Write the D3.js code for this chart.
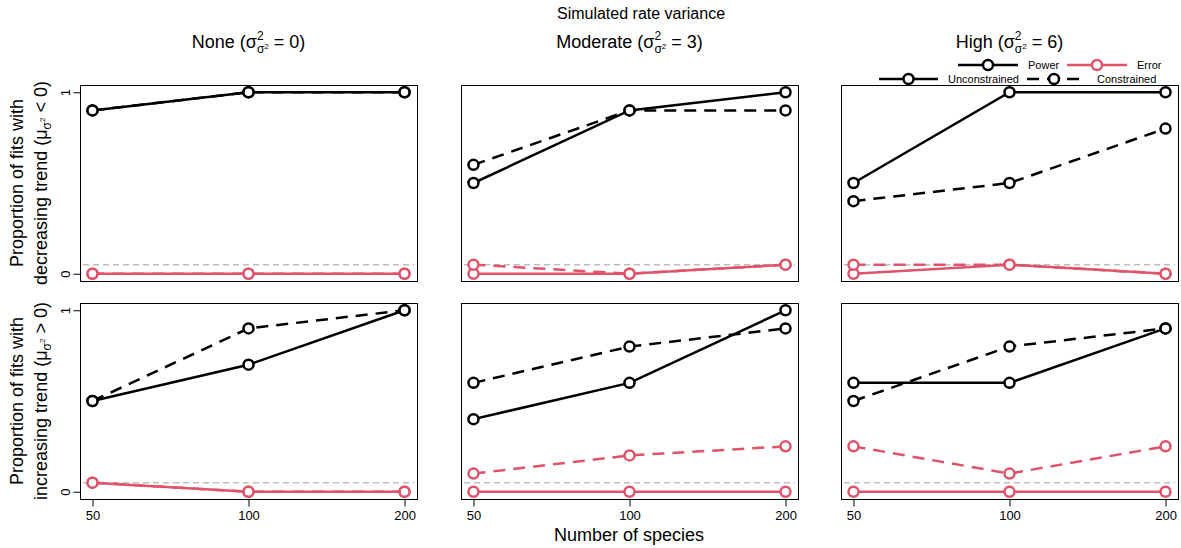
<!DOCTYPE html>
<html><head><meta charset="utf-8">
<script src="https://cdn.jsdelivr.net/npm/d3@7"></script>
<style>body{margin:0;background:#fff}svg{display:block}text{font-family:"Liberation Sans",Arial,sans-serif;fill:#000}</style>
</head><body><svg id="c" width="1181" height="548"></svg>
<script>
// ---- data ----
const species = ["50", "100", "200"];
const yTicks = [0, 1];
const columnNames = ["None", "Moderate", "High"];
const columnVariance = ["0", "3", "6"];
const rowTrend = ["decreasing", "increasing"];
const rowSign = ["<", ">"];
const errorThreshold = 0.05;
// rows: decreasing (top), increasing (bottom); each array: [None, Moderate, High]
const decPowerUnc = [[0.9, 1, 1], [0.5, 0.9, 1], [0.5, 1, 1]];
const decPowerCon = [[0.9, 1, 1], [0.6, 0.9, 0.9], [0.4, 0.5, 0.8]];
const decErrorUnc = [[0, 0, 0], [0, 0, 0.05], [0, 0.05, 0]];
const decErrorCon = [[0, 0, 0], [0.05, 0, 0.05], [0.05, 0.05, 0]];
const incPowerUnc = [[0.5, 0.7, 1], [0.4, 0.6, 1], [0.6, 0.6, 0.9]];
const incPowerCon = [[0.5, 0.9, 1], [0.6, 0.8, 0.9], [0.5, 0.8, 0.9]];
const incErrorUnc = [[0.05, 0, 0], [0, 0, 0], [0, 0, 0]];
const incErrorCon = [[0.05, 0, 0], [0.1, 0.2, 0.25], [0.25, 0.1, 0.25]];

const rowsData = [
  {pu: decPowerUnc, pc: decPowerCon, eu: decErrorUnc, ec: decErrorCon},
  {pu: incPowerUnc, pc: incPowerCon, eu: incErrorUnc, ec: incErrorCon}
];

// ---- layout ----
const svg = d3.select("#c");
const colX = [80, 461, 841], panelW = 337;
const rowY = [85, 303], panelH = 196;
const BLACK = "#000", RED = "#DF536B", GREY = "#BEBEBE";
const LW = 2.5, R = 5;
const DASH = "12,8";

function layout(g, items, x, y) {
  for (const it of items) {
    if (it.stack) {
      let start = x, maxEnd = x;
      for (const seq of it.stack) maxEnd = Math.max(maxEnd, layout(g, seq, start, y));
      x = maxEnd;
    } else {
      const t = g.append("text").attr("x", x).attr("y", y + (it.dy || 0))
        .attr("font-size", it.size).style("white-space", "pre").text(it.t);
      x += t.node().getComputedTextLength();
    }
  }
  return x;
}
function centered(parent, items, cx, cy, rotate) {
  const outer = parent.append("g").attr("transform", `translate(${cx},${cy})` + (rotate ? " rotate(-90)" : ""));
  const g = outer.append("g");
  const w = layout(g, items, 0, 0);
  g.attr("transform", `translate(${-w / 2},0)`);
  return outer;
}

// overall title
svg.append("text").attr("x", 641).attr("y", 19).attr("text-anchor", "middle")
  .attr("font-size", 16).text("Simulated rate variance");

// column titles
columnNames.forEach((n, i) => {
  centered(svg, [
    {t: n + " (σ", size: 18},
    {stack: [[{t: "2", size: 12, dy: -8}], [{t: "σ", size: 12, dy: 5}, {t: "2", size: 8, dy: 1}]]},
    {t: " = " + columnVariance[i] + ")", size: 18}
  ], colX[i] + panelW / 2, 48);
});

// y axis titles
rowTrend.forEach((tr, r) => {
  const cy = rowY[r] + panelH / 2;
  centered(svg, [{t: "Proportion of fits with", size: 18}], 23, cy, true);
  centered(svg, [
    {t: tr + " trend (μ", size: 18},
    {t: "σ", size: 12, dy: 4},
    {t: "2", size: 8, dy: -2},
    {t: " " + rowSign[r] + " 0)", size: 18}
  ], 47, cy, true);
});

// x axis title
svg.append("text").attr("x", 629).attr("y", 541).attr("text-anchor", "middle")
  .attr("font-size", 18).text("Number of species");

// panels
rowsData.forEach((rd, r) => {
  colX.forEach((x0, c) => {
    const y0 = rowY[r];
    const x = d3.scalePoint().domain(species).range([x0, x0 + panelW]).padding(0.08);
    const y = d3.scaleLinear().domain([-0.04, 1.04]).range([y0 + panelH, y0]);
    const g = svg.append("g");
    // threshold line
    g.append("line").attr("x1", x0 + 3).attr("x2", x0 + panelW - 3)
      .attr("y1", y(errorThreshold)).attr("y2", y(errorThreshold))
      .attr("stroke", GREY).attr("stroke-width", 1.5).attr("stroke-dasharray", "6,4");
    const series = [
      {v: rd.eu[c], col: RED, dash: null},
      {v: rd.ec[c], col: RED, dash: DASH},
      {v: rd.pu[c], col: BLACK, dash: null},
      {v: rd.pc[c], col: BLACK, dash: DASH}
    ];
    const line = d3.line().x((d, i) => x(species[i])).y(d => y(d));
    series.forEach(s => {
      g.append("path").attr("d", line(s.v)).attr("fill", "none")
        .attr("stroke", s.col).attr("stroke-width", LW)
        .attr("stroke-dasharray", s.dash);
    });
    series.forEach(s => {
      g.selectAll(null).data(s.v).enter().append("circle")
        .attr("cx", (d, i) => x(species[i])).attr("cy", d => y(d)).attr("r", R)
        .attr("fill", "#fff").attr("stroke", s.col).attr("stroke-width", LW);
    });
    // box
    g.append("rect").attr("x", x0 + 0.5).attr("y", y0 + 0.5).attr("width", panelW).attr("height", panelH)
      .attr("fill", "none").attr("stroke", "#000").attr("stroke-width", 1);
    // axes
    if (c === 0) {
      const ax = svg.append("g").attr("transform", `translate(${x0 + 0.5},0)`)
        .call(d3.axisLeft(y).tickValues(yTicks).tickSize(7).tickPadding(4).tickFormat(d3.format("d")));
      ax.select(".domain").attr("d", `M0,${y(1)}V${y(0)}`).attr("stroke", "#000");
      ax.selectAll(".tick line").attr("stroke", "#000");
      ax.selectAll(".tick text").attr("font-size", 13).attr("font-family", null)
        .attr("transform", "rotate(-90)").attr("x", 0).attr("y", -11)
        .attr("text-anchor", "middle").attr("dy", null);
    }
    if (r === 1) {
      const ax = svg.append("g").attr("transform", `translate(0,${y0 + panelH + 0.5})`)
        .call(d3.axisBottom(x).tickSize(7).tickPadding(4));
      ax.select(".domain").attr("d", `M${x(species[0])},0H${x(species[2])}`).attr("stroke", "#000");
      ax.selectAll(".tick line").attr("stroke", "#000");
      ax.selectAll(".tick text").attr("font-size", 13).attr("font-family", null).attr("dy", null).attr("y", 20);
    }
  });
});

// legend
const lg = svg.append("g");
const legendRows = [
  [{x1: 958, x2: 1018, col: BLACK, dash: null, label: "Power", tx: 1028},
   {x1: 1067, x2: 1127, col: RED, dash: null, label: "Error", tx: 1137}],
  [{x1: 879, x2: 938, col: BLACK, dash: null, label: "Unconstrained", tx: 948},
   {x1: 1027, x2: 1081, col: BLACK, dash: DASH, label: "Constrained", tx: 1097}]
];
const legendY = [65, 79];
legendRows.forEach((row, ri) => {
  row.forEach(it => {
    const yy = legendY[ri];
    lg.append("line").attr("x1", it.x1).attr("x2", it.x2).attr("y1", yy).attr("y2", yy)
      .attr("stroke", it.col).attr("stroke-width", LW).attr("stroke-dasharray", it.dash);
    lg.append("circle").attr("cx", (it.x1 + it.x2) / 2).attr("cy", yy).attr("r", R)
      .attr("fill", "#fff").attr("stroke", it.col).attr("stroke-width", LW);
    lg.append("text").attr("x", it.tx).attr("y", yy + 4).attr("font-size", 11).text(it.label);
  });
});
</script></body></html>
